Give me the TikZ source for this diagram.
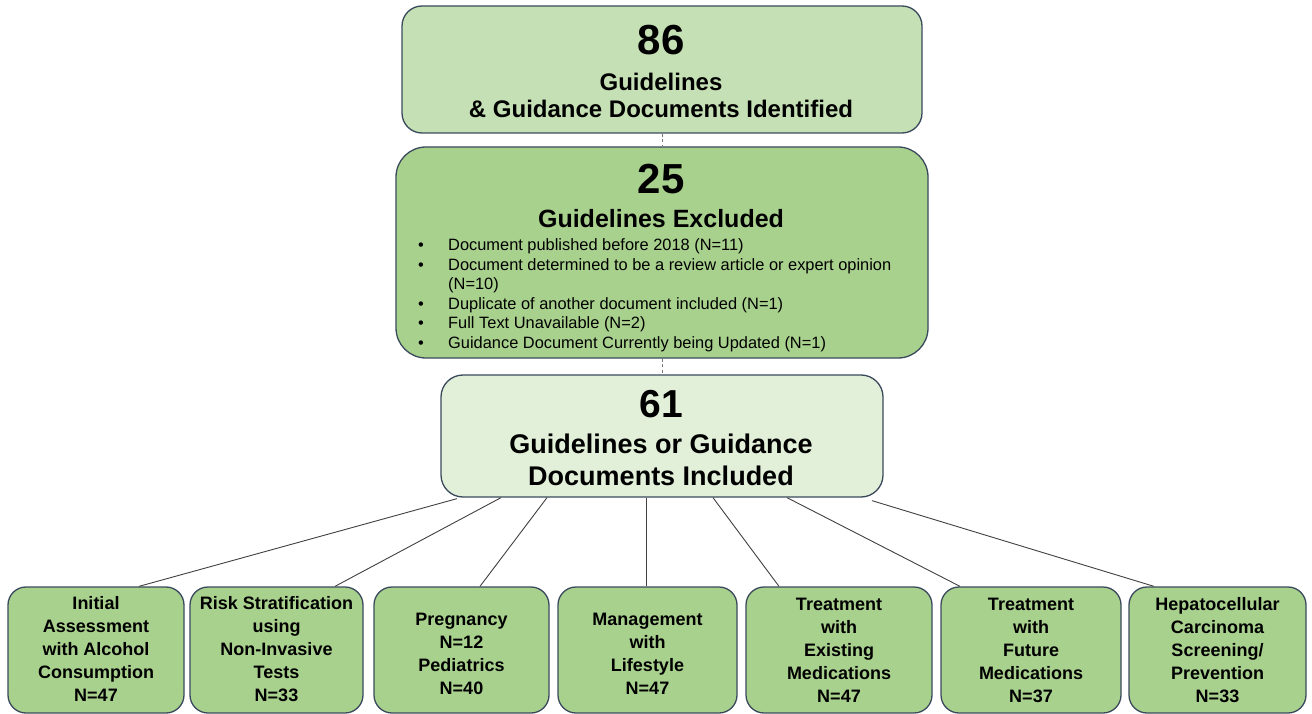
\documentclass[tikz,border=0pt]{standalone}
\usepackage{fontspec}
\setmainfont{Liberation Sans}
\usetikzlibrary{calc}

\definecolor{greenA}{HTML}{C5E0B4}
\definecolor{greenB}{HTML}{A9D18E}
\definecolor{greenC}{HTML}{E2F0D9}
\definecolor{edgeblue}{HTML}{3A4A5C}
\definecolor{wire}{HTML}{404040}

\newcommand\numsize{\fontsize{42}{42}\selectfont\bfseries}
\newcommand\headsize{\fontsize{24}{27}\selectfont\bfseries}
\newcommand\midsize{\fontsize{27}{32}\selectfont\bfseries}
\newcommand\listsize{\fontsize{16.4}{19.5}\selectfont}

\begin{document}
\begin{tikzpicture}[x=1pt,y=-1pt,
  box/.style={draw=edgeblue, line width=1.3pt, inner sep=0pt},
  leaf/.style={box, fill=greenB, rounded corners=18pt, minimum height=126pt},
  leaftext/.style={inner sep=0pt, align=center, font=\fontsize{18}{23}\selectfont\bfseries},
  txt/.style={inner sep=0pt, anchor=base},
  item/.style={inner sep=0pt, anchor=base west, font=\listsize},
  dot/.style={inner sep=0pt, anchor=base, font=\listsize},
  link/.style={draw=wire, line width=0.9pt},
  gap/.style={draw=wire!70, line width=0.9pt, dash pattern=on 3pt off 2.5pt}]

\useasboundingbox (0,0) rectangle (1312,714);

% ---- stage boxes ----
\node[box, fill=greenA, rounded corners=20pt, minimum width=520pt, minimum height=127pt]
  (ident) at (662,69.5) {};
\node[box, fill=greenB, rounded corners=30pt, minimum width=532pt, minimum height=211pt]
  (excl) at (662,252.5) {};
\node[box, fill=greenC, rounded corners=22pt, minimum width=442pt, minimum height=122pt]
  (inc) at (662,436) {};

% identified
\node[txt, font=\numsize] (t86) at (661,55) {86};
\node[txt, font=\headsize] (tid1) at (661,91) {Guidelines};
\node[txt, font=\headsize] (tid2) at (661,118) {\& Guidance Documents Identified};

% excluded
\node[txt, font=\numsize] (t25) at (661,194) {25};
\node[txt, font=\fontsize{25}{30}\selectfont\bfseries] (tex) at (661,228) {Guidelines Excluded};
\node[dot] (d1) at (421,250.5) {•};
\node[item] (e1) at (448,250.5) {Document published before 2018 (N=11)};
\node[dot] (d2) at (421,270) {•};
\node[item] (e2) at (448,270) {Document determined to be a review article or expert opinion};
\node[item] (e2b) at (448,289.5) {(N=10)};
\node[dot] (d3) at (421,309) {•};
\node[item] (e3) at (448,309) {Duplicate of another document included (N=1)};
\node[dot] (d4) at (421,328.5) {•};
\node[item] (e4) at (448,328.5) {Full Text Unavailable (N=2)};
\node[dot] (d5) at (421,348) {•};
\node[item] (e5) at (448,348) {Guidance Document Currently being Updated (N=1)};

% included
\node[txt, font=\fontsize{39}{39}\selectfont\bfseries] (t61) at (661,417) {61};
\node[txt, font=\midsize] (tin1) at (661,453) {Guidelines or Guidance};
\node[txt, font=\midsize] (tin2) at (661,485) {Documents Included};

% ---- topic boxes ----
\node[leaf, minimum width=176pt] (c1) at (96,650) {};
\node[leaf, minimum width=173pt] (c2) at (276.5,650) {};
\node[leaf, minimum width=175pt] (c3) at (461.5,650) {};
\node[leaf, minimum width=179pt] (c4) at (647.5,650) {};
\node[leaf, minimum width=186pt] (c5) at (839,650) {};
\node[leaf, minimum width=180pt] (c6) at (1031,650) {};
\node[leaf, minimum width=177pt] (c7) at (1217.5,650) {};

\node[leaftext] (l1) at ([yshift=1pt]c1.center)
  {Initial\\Assessment\\with Alcohol\\Consumption\\N=47};
\node[leaftext] (l2) at ([yshift=1pt]c2.center)
  {Risk Stratification\\using\\Non-Invasive\\Tests\\N=33};
\node[leaftext] (l3) at ([yshift=-4pt]c3.center)
  {Pregnancy\\N=12\\Pediatrics\\N=40};
\node[leaftext] (l4) at ([yshift=-4pt]c4.center)
  {Management\\with\\Lifestyle\\N=47};
\node[leaftext] (l5) at ([yshift=0pt]c5.center)
  {Treatment\\with\\Existing\\Medications\\N=47};
\node[leaftext] (l6) at ([yshift=0pt]c6.center)
  {Treatment\\with\\Future\\Medications\\N=37};
\node[leaftext] (l7) at ([yshift=0pt]c7.center)
  {Hepatocellular\\Carcinoma\\Screening/\\Prevention\\N=33};

% ---- connectors ----
\draw[gap] (ident.south) -- (excl.north);
\draw[gap] (excl.south) -- (inc.north);

\draw[link] ([xshift=-205pt,yshift=-1pt]inc.south) -- ([xshift=43pt]c1.north);
\draw[link] ([xshift=-161pt]inc.south) -- ([xshift=58.5pt]c2.north);
\draw[link] ([xshift=-115pt]inc.south) -- ([xshift=18.5pt]c3.north);
\draw[link] ([xshift=-16pt]inc.south) -- ([xshift=-1.5pt]c4.north);
\draw[link] ([xshift=51pt]inc.south) -- ([xshift=-60pt]c5.north);
\draw[link] ([xshift=125pt]inc.south) -- ([xshift=-71pt]c6.north);
\draw[link] ([xshift=210pt,yshift=-3pt]inc.south) -- ([xshift=-63.5pt]c7.north);
\end{tikzpicture}
\end{document}
